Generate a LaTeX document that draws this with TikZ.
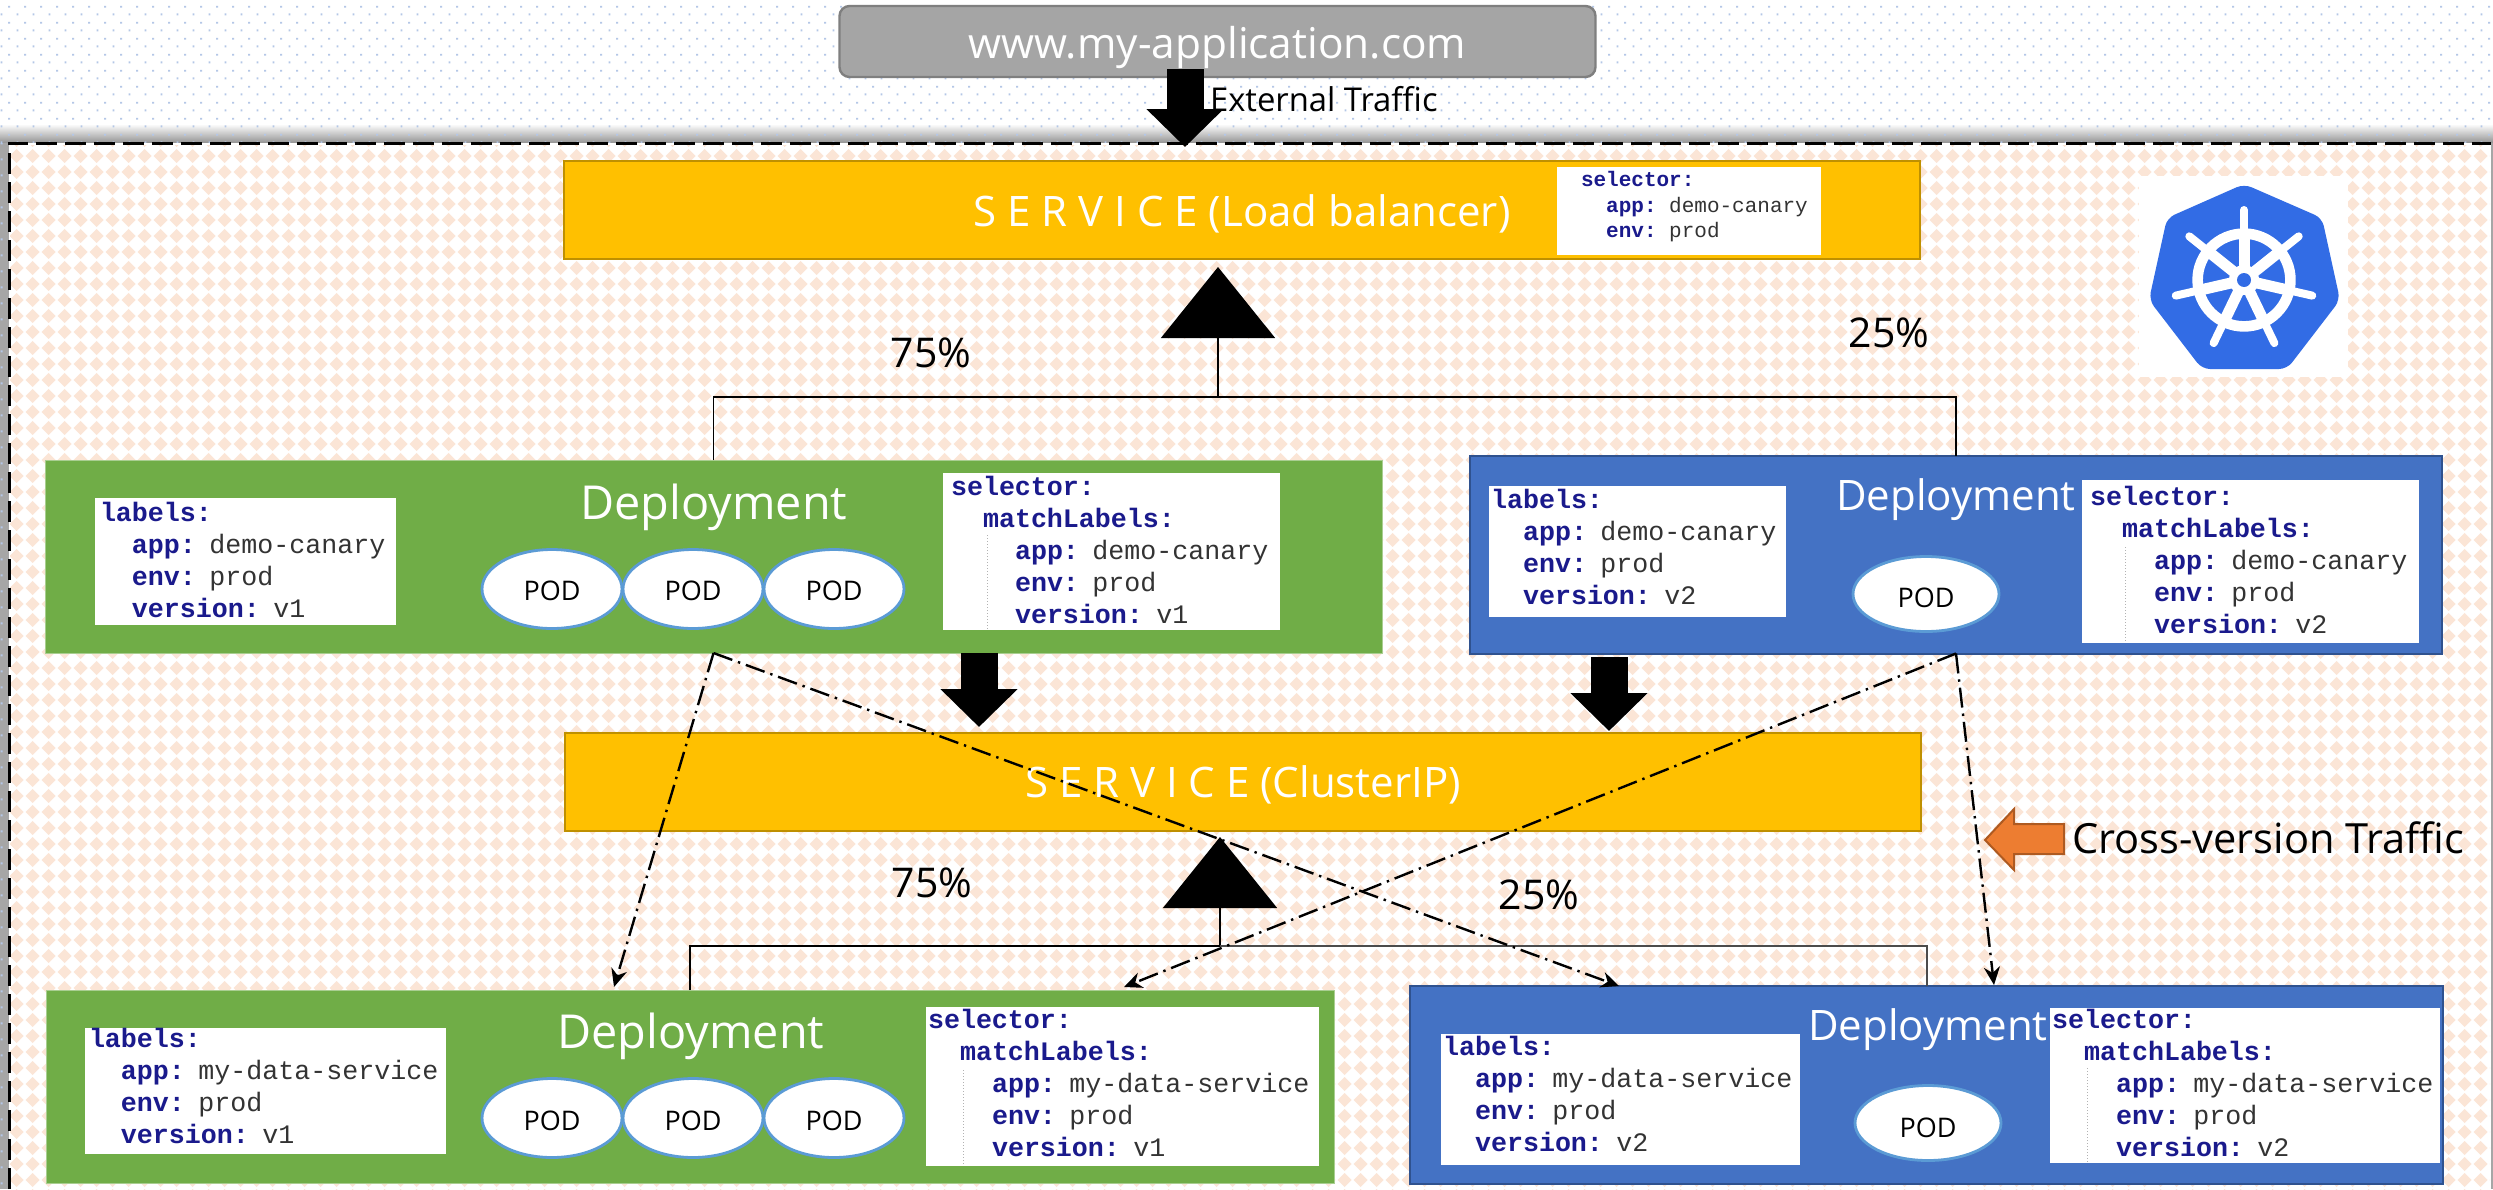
\documentclass[tikz,border=0pt]{standalone}
\usepackage{fontspec}
\setmainfont{Open Sans}
\setmonofont{Liberation Mono}
\usetikzlibrary{arrows.meta,patterns,positioning,shapes.geometric}

\definecolor{urlgray}{HTML}{A5A5A5}
\definecolor{urledge}{HTML}{7F7F7F}
\definecolor{svcgold}{HTML}{FFC000}
\definecolor{svcedge}{HTML}{BF9000}
\definecolor{depgreen}{HTML}{70AD47}
\definecolor{depblue}{HTML}{4472C4}
\definecolor{depedge}{HTML}{2F528F}
\definecolor{podedge}{HTML}{5B9BD5}
\definecolor{keynavy}{HTML}{1A1A8C}
\definecolor{peach}{HTML}{FBE5D6}
\definecolor{dotblue}{HTML}{B4C7E7}
\definecolor{kubeblue}{HTML}{326CE5}
\definecolor{crossorange}{HTML}{ED7D31}
\definecolor{crossedge}{HTML}{AE5A21}

\pgfdeclarepatternformonly{diamondgrid}{\pgfqpoint{-3.65pt}{.5pt}}{\pgfqpoint{4.35pt}{8.5pt}}{\pgfqpoint{8pt}{8pt}}{
  \pgfpathmoveto{\pgfqpoint{3.85pt}{4.5pt}}
  \pgfpathlineto{\pgfqpoint{.35pt}{8pt}}
  \pgfpathlineto{\pgfqpoint{-3.15pt}{4.5pt}}
  \pgfpathlineto{\pgfqpoint{.35pt}{1pt}}
  \pgfpathclose
  \pgfusepath{fill}
}
\pgfdeclarepatternformonly{dotgrid}{\pgfqpoint{0pt}{0pt}}{\pgfqpoint{8pt}{8pt}}{\pgfqpoint{8pt}{8pt}}{
  \pgfpathrectangle{\pgfqpoint{4.85pt}{7pt}}{\pgfqpoint{1pt}{1pt}}
  \pgfpathrectangle{\pgfqpoint{.85pt}{3pt}}{\pgfqpoint{1pt}{1pt}}
  \pgfusepath{fill}
}

\newcommand{\yk}[1]{\textcolor{keynavy}{\textbf{#1}}}
\newcommand{\ind}{\hphantom{xx}}
\newcommand{\sunk}[2]{\raisebox{-#1}[0pt][0pt]{#2}}
\newcommand{\liftend}[1]{\par\vspace*{#1}}
\newcommand{\labelsyaml}[2]{\yk{labels:}\\\ind\yk{app:} #1\\\ind\yk{env:} prod\\\ind\yk{version:} #2}
\newcommand{\selectoryaml}[2]{\yk{selector:}\\\ind\yk{matchLabels:}\\\ind\ind\yk{app:} #1\\\ind\ind\yk{env:} prod\\\ind\ind\yk{version:} #2}

\begin{document}
\begin{tikzpicture}[x=.5pt,y=-.5pt,on grid,node distance=70.5pt,lift/.style={execute at end node={\liftend{#1}}}]
    \tikzstyle{every node}=[inner sep=0pt,outer sep=0pt]
    \tikzstyle{svc}=[rectangle,draw=svcedge,line width=1pt,fill=svcgold,text=white,font=\fontsize{21}{25}\selectfont,minimum width=678pt,minimum height=49pt]
    \tikzstyle{greenbox}=[rectangle,draw=depgreen!60!white,line width=.5pt,fill=depgreen,minimum height=96.5pt]
    \tikzstyle{bluebox}=[rectangle,draw=depedge,line width=1pt,fill=depblue,minimum height=99pt]
    \tikzstyle{codebox}=[rectangle,fill=white,text=black!80,anchor=west,align=left,font=\ttfamily\fontsize{13.33}{16}\selectfont]
    \tikzstyle{pod}=[ellipse,draw=podedge,line width=1.4pt,fill=white,font=\fontsize{13.5}{16}\selectfont,minimum width=70pt,minimum height=39.5pt]
    \tikzstyle{podone}=[pod,minimum width=73pt,minimum height=37.5pt]
    \tikzstyle{deptext}=[text=white,font=\fontsize{23.4}{28}\selectfont]
    \tikzstyle{deptextb}=[text=white,font=\fontsize{21}{26}\selectfont]
    \tikzstyle{share}=[font=\fontsize{20.5}{24}\selectfont]
    \tikzstyle{bigarrow}=[line width=18.5pt,-{Triangle[length=19pt,width=37.5pt]}]
    \tikzstyle{treeline}=[line width=.7pt]
    \tikzstyle{treehead}=[line width=.7pt,-{Triangle[length=35.5pt,width=57pt]}]
    \tikzstyle{crossflow}=[line width=1.2pt,dash pattern=on 10pt off 3pt on 1.2pt off 3pt,-{Stealth[length=9pt,width=8pt]}]
    \tikzstyle{guide}=[gray!60,line width=.5pt,densely dotted]

    \useasboundingbox (0,0) rectangle (2493,1189);

    % page and panel
    \fill[white] (0,0) rectangle (2493,1189);
    \shade[top color=white,bottom color=gray!85] (0,124) rectangle (2493,143);
    \fill[gray!70] (0,143) rectangle (9,1189);
    \fill[gray!70] (2490,143) rectangle (2493,1189);
    \fill[pattern=dotgrid,pattern color=dotblue] (0,0) rectangle (2493,143);
    \fill[pattern=dotgrid,pattern color=dotblue] (0,143) rectangle (8,1189);
    \fill[white] (9,143) rectangle (2491,1189);
    \fill[pattern=diamondgrid,pattern color=peach] (10,145) rectangle (2490,1189);
    \draw[line width=1.5pt,dash pattern=on 10.5pt off 4pt] (9,1189) -- (9,143) -- (2491,143);

    % top row
    \node[rectangle,rounded corners=5pt,draw=urledge,line width=1.2pt,fill=urlgray,text=white,font=\fontsize{21.2}{25}\selectfont,minimum width=378pt,minimum height=35.5pt] (url) at (1217.5,41.5) {\sunk{8.25pt}{www.my-application.com}};
    \node[font=\fontsize{16.4}{20}\selectfont,anchor=west] (external) at (1210,99) {External Traffic};
    \node[svc] (svclb) at (1242,210) {\sunk{8pt}{S E R V I C E (Load balancer)}};
    \node[codebox,minimum width=132pt,minimum height=44pt] (selbox) at (1557,211) {};
    \node[anchor=west,align=left,text=black!80,font=\ttfamily\fontsize{10.5}{12.75}\selectfont] (seltext) at (1581,207) {\yk{selector:}\\\ind\yk{app:} demo-canary\\\ind\yk{env:} prod};

    % logo
    \fill[white] (2139,176) rectangle (2348,377);
    \fill[kubeblue,rounded corners=4pt] (2244,184) -- (2322,218) -- (2340,300) -- (2287,369) -- (2202,369) -- (2149,300) -- (2167,218) -- cycle;
    \coordinate (wheel) at (2244,280);
    \draw[white,line width=5.3pt] (wheel) circle (23.2pt);
    \foreach \ang in {90,38.6,-12.9,-64.3,-115.7,-167.1,141.4} {
        \draw[white,line width=5.5pt] (wheel) -- ++(\ang:25pt);
        \draw[white,line width=4pt,line cap=round] (wheel) -- ++(\ang:35pt);
    }
    \fill[white] (wheel) circle (7.5pt);
    \fill[kubeblue] (wheel) circle (3.5pt);

    % shares
    \node[share] (sharea) at (931,353) {75\%};
    \node[share] (shareb) at (1889,333) {25\%};
    \node[share] (sharec) at (932,883) {75\%};
    \node[share] (shared) at (1539,895) {25\%};

    % front deployments
    \node[greenbox,minimum width=668.5pt] (depa) at (713.5,556.5) {};
    \node[bluebox,minimum width=486pt]    (depb) at (1956,554.5)  {};
    \node[deptext]  (depatext) at (714,507)  {Deployment};
    \node[deptextb] (depbtext) at (1956,500) {Deployment};
    \node[codebox,lift=1.5pt,minimum height=63.5pt,text width=145.5pt,inner xsep=2.5pt] (labela) at (95,561.5)    {\labelsyaml{demo-canary}{v1}};
    \node[codebox,lift=1.5pt,minimum height=78.5pt,text width=160.5pt,inner xsep=4pt]   (sela)   at (943,551.5)   {\selectoryaml{demo-canary}{v1}};
    \node[codebox,lift=4.5pt,minimum height=65.5pt,text width=146.5pt,inner xsep=1pt]   (labelb) at (1489,551.5)  {\labelsyaml{demo-canary}{v2}};
    \node[codebox,lift=1.5pt,minimum height=81.5pt,text width=160.5pt,inner xsep=4pt]   (selb)   at (2082,561.5)  {\selectoryaml{demo-canary}{v2}};
    \node[pod]              (poda) at (552,589)    {\sunk{5.5pt}{POD}};
    \node[pod]              (podb) [right of=poda] {\sunk{5.5pt}{POD}};
    \node[pod]              (podc) [right of=podb] {\sunk{5.5pt}{POD}};
    \node[podone]           (podd) at (1926,594)   {\sunk{6.5pt}{POD}};

    % cluster service
    \node[svc] (svcip) at (1243,782) {\sunk{7.5pt}{S E R V I C E (ClusterIP)}};

    % data deployments
    \node[greenbox,minimum width=644pt]   (depc) at (690,1086.5)   {};
    \node[bluebox,minimum width=516.5pt]  (depd) at (1926.5,1085)  {};
    \node[deptext]  (depctext) at (691,1036)  {Deployment};
    \node[deptextb] (depdtext) at (1928,1030) {Deployment};
    \node[codebox,lift=5pt,minimum height=62pt,text width=176.5pt,inner xsep=2pt]     (labelc) at (85,1091)     {\labelsyaml{my-data-service}{v1}};
    \node[codebox,lift=4pt,minimum height=79.5pt,text width=194.5pt,inner xsep=1pt]   (selc)   at (926,1086.5)  {\selectoryaml{my-data-service}{v1}};
    \node[codebox,lift=5.5pt,minimum height=65.5pt,text width=177.5pt,inner xsep=1pt] (labeld) at (1441,1099.5) {\labelsyaml{my-data-service}{v2}};
    \node[codebox,lift=3pt,minimum height=77.5pt,text width=193pt,inner xsep=1pt]     (seld)   at (2050,1085.5) {\selectoryaml{my-data-service}{v2}};
    \node[pod]              (pode) at (552,1118)   {\sunk{6pt}{POD}};
    \node[pod]              (podf) [right of=pode] {\sunk{6pt}{POD}};
    \node[pod]              (podg) [right of=podf] {\sunk{6pt}{POD}};
    \node[podone]           (podh) at (1928,1123)  {\sunk{7pt}{POD}};

    % guide rails inside the selector boxes
    \foreach \gx/\gtop/\gbot in {987/535/630,2125/547/643,963/1070/1166,2087/1068/1163}
        \draw[guide] (\gx,\gtop) -- (\gx,\gbot);

    % cross-version marker
    \fill[crossorange,draw=crossedge,line width=1pt] (1985,840) -- (2014,809) -- (2014,824) -- (2064,824) -- (2064,854) -- (2014,854) -- (2014,870) -- cycle;
    \node[font=\fontsize{20.8}{24}\selectfont,anchor=west] (crosstext) at (2072,838) {Cross-version Traffic};

    % connector ends
    \coordinate (urlfoot)  at (1185,69);
    \coordinate (lbtip)    at (1185,147);
    \coordinate (depafoot) at (979,653);
    \coordinate (depatip)  at (979,727);
    \coordinate (depbfoot) at (1609,657);
    \coordinate (depbtip)  at (1609,731);
    \coordinate (lbapex)   at (1218,267);
    \coordinate (lbjoin)   at (1218,397);
    \coordinate (ipapex)   at (1220,837);
    \coordinate (ipjoin)   at (1220,946);
    \coordinate (tipc)     at (614,987);
    \coordinate (tipd)     at (1619,986);
    \coordinate (tipe)     at (1124,987);
    \coordinate (tipf)     at (1994,985);

    \draw[bigarrow] (urlfoot) -- (lbtip);
    \draw[bigarrow] (depafoot) -- (depatip);
    \draw[bigarrow] (depbfoot) -- (depbtip);

    \draw[treehead] (lbjoin) -- (lbapex);
    \draw[treehead] (ipjoin) -- (ipapex);
    \draw[treeline] (depa.north) |- (lbjoin);
    \draw[treeline] (depb.north) |- (lbjoin);
    \draw[treeline] (depc.north) |- (ipjoin);
    \draw[treeline,black!70,line width=1pt] (depd.north) |- (ipjoin);

    \path[crossflow]
        (depa.south) edge (tipc)
        (depa.south) edge (tipd)
        (depb.south) edge (tipe)
        (depb.south) edge (tipf)
    ;
\end{tikzpicture}
\end{document}
